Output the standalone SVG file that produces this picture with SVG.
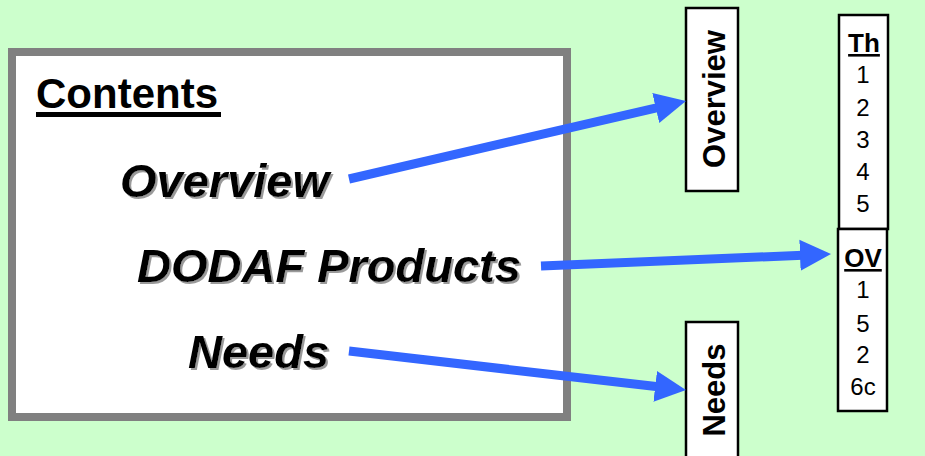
<svg xmlns="http://www.w3.org/2000/svg" width="925" height="456" viewBox="0 0 925 456">
  <style>
    .bg { fill: #CCFFCC; }
    .main { fill: #FFFFFF; stroke: #808080; stroke-width: 8; }
    .box { fill: #FFFFFF; stroke: #000000; stroke-width: 2.5; }
    .title { font-family: "Liberation Sans", Arial, sans-serif; font-weight: bold; font-size: 42px; fill: #000; }
    .uline { stroke: #000; stroke-width: 5; }
    .item { font-family: "Liberation Sans", Arial, sans-serif; font-weight: bold; font-style: italic; font-size: 47px; fill: #000; filter: url(#shadow); }
    .vlabel { font-family: "Liberation Sans", Arial, sans-serif; font-weight: bold; font-size: 31px; fill: #000; text-anchor: middle; }
    .head { font-family: "Liberation Sans", Arial, sans-serif; font-weight: bold; font-size: 26px; fill: #000; text-anchor: middle; text-decoration: underline; }
    .num { font-family: "Liberation Sans", Arial, sans-serif; font-size: 24px; fill: #000; text-anchor: middle; }
    .conn { fill: none; stroke: #3366FF; stroke-width: 9; marker-end: url(#arrow); }
  </style>
  <defs>
    <filter id="shadow" x="-10%" y="-20%" width="120%" height="150%">
      <feDropShadow dx="2" dy="2" stdDeviation="0.6" flood-color="#9a9a9a" flood-opacity="1"/>
    </filter>
    <marker id="arrow" markerUnits="userSpaceOnUse" markerWidth="32" markerHeight="32" refX="3" refY="15.5" orient="auto" viewBox="0 0 32 31">
      <path d="M0,0 L31,15.5 L0,31 Z" fill="#3366FF"/>
    </marker>
  </defs>
  <rect class="bg" x="0" y="0" width="925" height="456"/>

  <g id="contents">
    <rect class="main" x="12" y="52" width="555" height="365"/>
    <text class="title" x="36" y="108">Contents</text>
    <line class="uline" x1="36" y1="114.5" x2="221" y2="114.5"/>
    <text class="item" x="120" y="197">Overview</text>
    <text class="item" x="137" y="282">DODAF Products</text>
    <text class="item" x="188" y="368">Needs</text>
  </g>

  <g id="overview">
    <rect class="box" x="686" y="8" width="52" height="183"/>
    <text class="vlabel" transform="translate(725,99) rotate(-90)">Overview</text>
  </g>

  <g id="needs">
    <rect class="box" x="686" y="322" width="52" height="150"/>
    <text class="vlabel" transform="translate(725,390) rotate(-90)">Needs</text>
  </g>

  <g id="th">
    <rect class="box" x="839" y="15" width="49" height="214"/>
    <text class="head" x="864" y="52">Th</text>
    <text class="num" x="863" y="83">1</text>
    <text class="num" x="863" y="116">2</text>
    <text class="num" x="863" y="148">3</text>
    <text class="num" x="863" y="180">4</text>
    <text class="num" x="863" y="212">5</text>
  </g>

  <g id="ov">
    <rect class="box" x="838" y="229" width="49" height="182"/>
    <text class="head" x="863" y="267">OV</text>
    <text class="num" x="863" y="298">1</text>
    <text class="num" x="863" y="332">5</text>
    <text class="num" x="863" y="363">2</text>
    <text class="num" x="863" y="395">6c</text>
  </g>

  <g id="connectors">
    <line class="conn" x1="349" y1="179" x2="658.7" y2="107.3"/>
    <line class="conn" x1="541" y1="266" x2="803" y2="255.2"/>
    <line class="conn" x1="349" y1="351" x2="658.2" y2="386.8"/>
  </g>
</svg>
